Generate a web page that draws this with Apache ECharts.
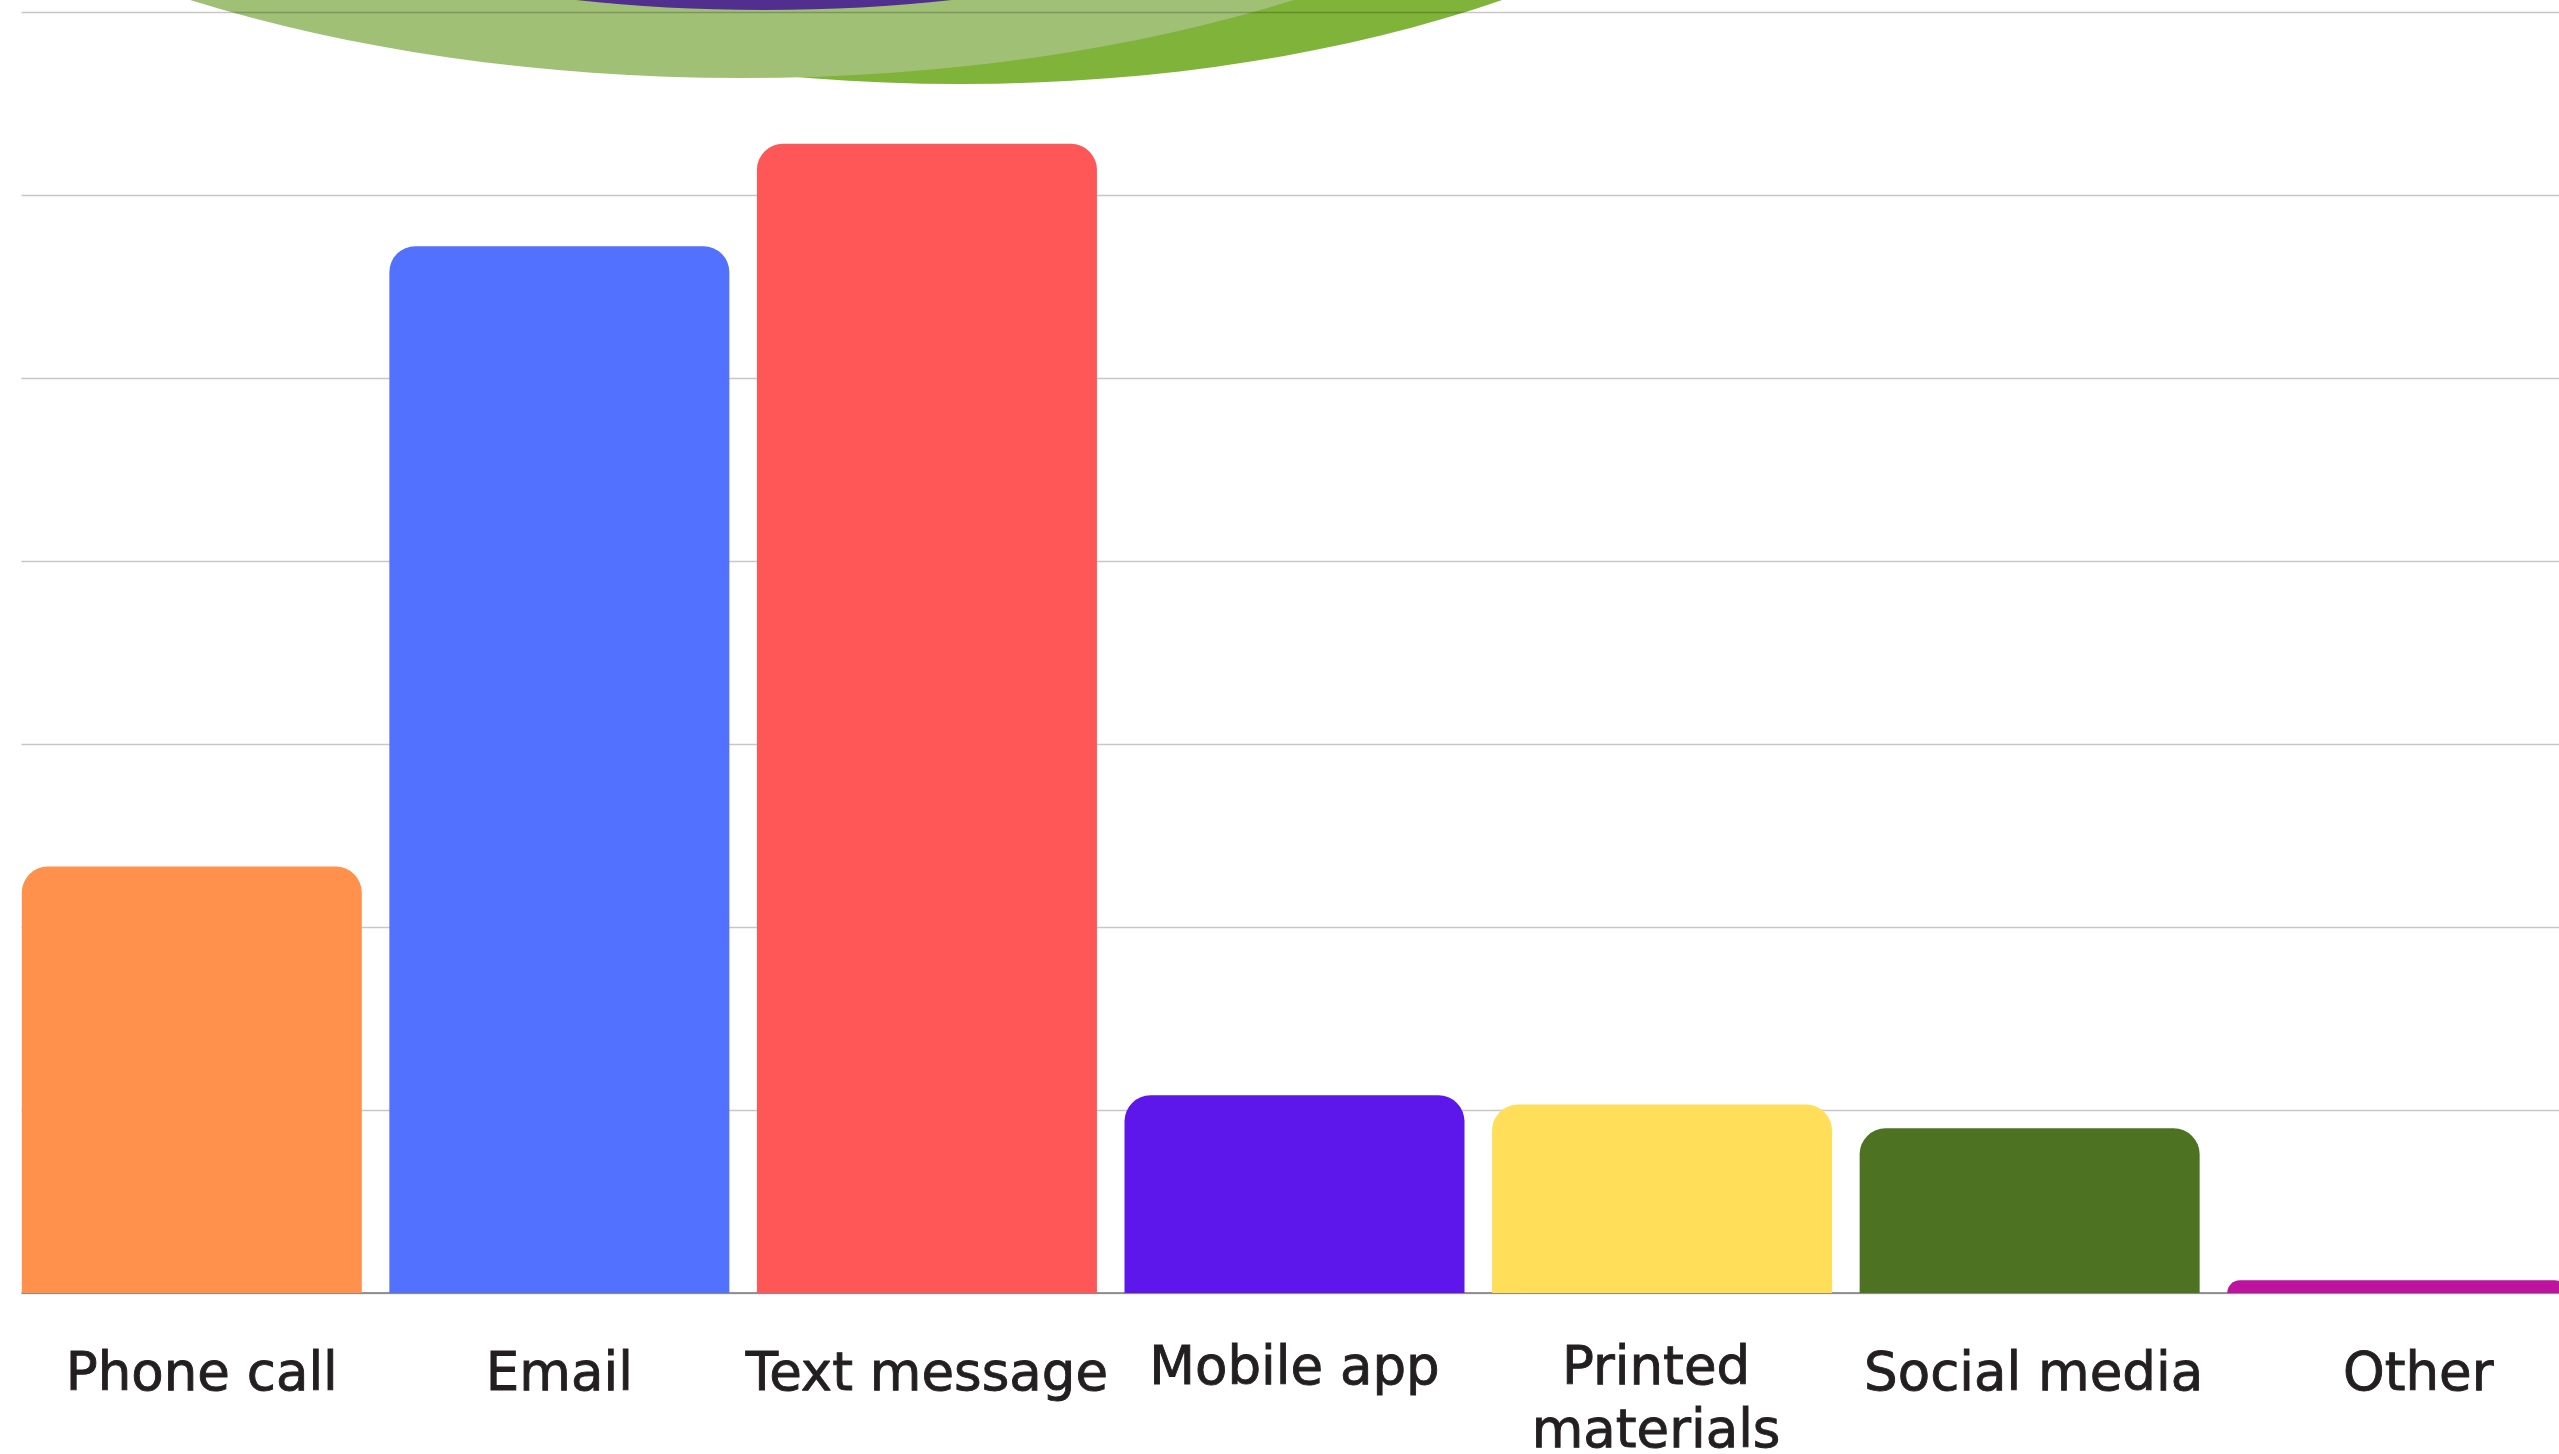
<!DOCTYPE html>
<html>
<head>
<meta charset="utf-8">
<style>
  html, body { margin: 0; padding: 0; background: #ffffff; }
  #chart { width: 2559px; height: 1454px; }
</style>
<script src="https://cdn.jsdelivr.net/npm/echarts@6/dist/echarts.min.js"></script>
</head>
<body>
<div id="chart"></div>
<script>
// ---- data ----
const categories = ['Phone call', 'Email', 'Text message', 'Mobile app', 'Printed\nmaterials', 'Social media', 'Other'];
const values = [23.3, 57.2, 62.8, 10.8, 10.3, 9.0, 0.7];
const yTicks = [0, 10, 20, 30, 40, 50, 60, 70];

// ---- style ----
const palette = ['#FF914D', '#5271FF', '#FF5757', '#5E17EB', '#FFDE59', '#4D7322', '#BD139E'];
const raised = { 'Mobile app': true, 'Printed\nmaterials': true };
const labelShift = { 'Phone call': 10, 'Other': 21, 'Printed\nmaterials': -6, 'Social media': 4 };

const chart = echarts.init(document.getElementById('chart'), null, { renderer: 'canvas' });

const txt = { fontFamily: 'DejaVu Sans', fontSize: 53, color: '#231F20', textBorderColor: '#231F20', textBorderWidth: 0.9 };

function esc(s) { return s; }

chart.setOption({
  backgroundColor: '#ffffff',
  animation: false,
  grid: { left: 8, top: 12, width: 2573, bottom: 161, containLabel: false, outerBoundsMode: 'none' },
  xAxis: {
    type: 'category',
    data: categories,
    boundaryGap: true,
    axisTick: { show: false },
    axisLine: { show: true, lineStyle: { color: '#7a7a7a', width: 1.5 } },
    axisLabel: Object.assign({
      interval: 0,
      margin: 51,
      verticalAlign: 'top',
      align: 'center',
      hideOverlap: false,
      formatter: function (v) {
        const lines = v.split('\n');
        const s = labelShift[v] || 0;
        const suffix = s > 0 ? 'R' : (s < 0 ? 'L' : '');
        const key = s !== 0 ? String(Math.abs(s)) : '';
        return lines.map((l, i) => {
          let base = raised[v] ? (i === 0 ? 'u' : 'u2') : 'n';
          return '{' + base + suffix + key + '|' + l + '}';
        }).join('\n');
      },
      rich: (function () {
        const r = {};
        const bases = { n: 64, u: 52, u2: 75 };
        Object.keys(bases).forEach(b => {
          r[b] = Object.assign({ lineHeight: bases[b] }, txt);
          Object.keys(labelShift).forEach(k => {
            const s = labelShift[k];
            const a = Math.abs(s);
            if (s > 0) r[b + 'R' + a] = Object.assign({ lineHeight: bases[b], padding: [0, 0, 0, 2 * a] }, txt);
            if (s < 0) r[b + 'L' + a] = Object.assign({ lineHeight: bases[b], padding: [0, 2 * a, 0, 0] }, txt);
          });
        });
        return r;
      })()
    }, txt),
    splitLine: { show: false }
  },
  yAxis: {
    type: 'value',
    min: yTicks[0],
    max: yTicks[yTicks.length - 1],
    interval: yTicks[1] - yTicks[0],
    axisLabel: { show: false },
    axisTick: { show: false },
    axisLine: { show: false },
    splitLine: { show: true, lineStyle: { color: 'rgba(0,0,0,0.22)', width: 1.3 } }
  },
  graphic: [
    { type: 'ellipse', z: -3, silent: true, shape: { cx: 960, cy: -386, rx: 950, ry: 470 }, style: { fill: '#80B339' } },
    { type: 'ellipse', z: -2, silent: true, shape: { cx: 742, cy: -392, rx: 1000, ry: 470 }, style: { fill: '#A0C076' } },
    { type: 'ellipse', z: -1, silent: true, shape: { cx: 764, cy: -127, rx: 500, ry: 137 }, style: { fill: '#512F8F' } },
    { type: 'rect', z: 1, silent: true, shape: { x: 0, y: 0, width: 21.5, height: 1300 }, style: { fill: '#ffffff' } }
  ],
  series: [{
    type: 'bar',
    barCategoryGap: '7.5%',
    z: 2,
    data: values.map((v, i) => ({ value: v, itemStyle: { color: palette[i], borderRadius: [26, 26, 0, 0] } })),
    label: { show: false }
  }]
});
</script>
</body>
</html>
